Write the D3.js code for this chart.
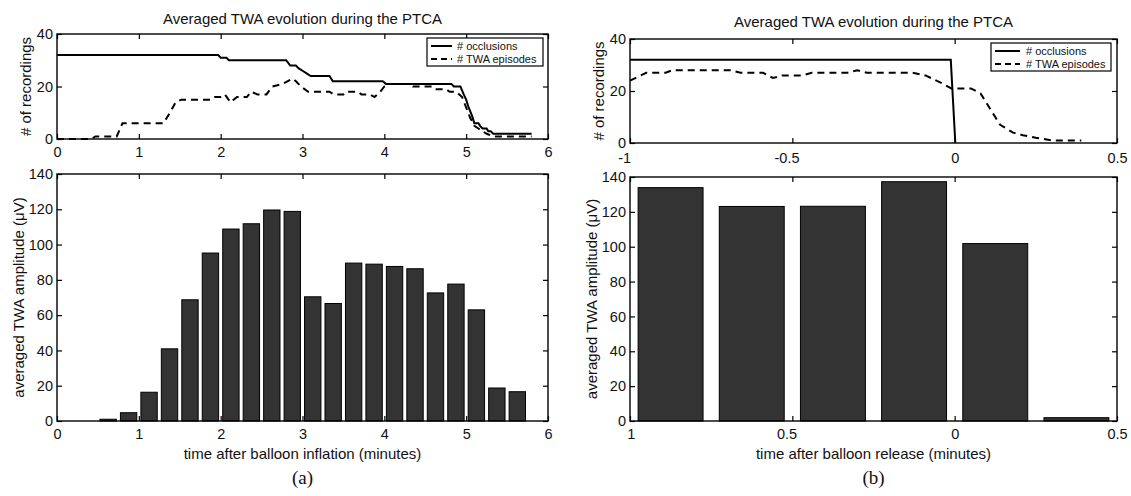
<!DOCTYPE html>
<html><head><meta charset="utf-8">
<script src="https://cdn.jsdelivr.net/npm/d3@7"></script>
<style>
body{margin:0;background:#fff;}
svg{display:block;font-family:"Liberation Sans",Arial,Helvetica,sans-serif;}
</style></head><body>
<svg id="c" width="1131" height="496"></svg>
<script>
// ---------- data ----------
const titleText = "Averaged TWA evolution during the PTCA";
const legendLabels = ["# occlusions", "# TWA episodes"];

// panel (a) top: number of recordings after balloon inflation
const occTimesA = [0,1.97,2.0,2.07,2.1,2.8,2.85,2.92,2.95,3.0,3.05,3.1,3.33,3.37,3.98,4.02,4.82,4.85,4.93,4.97,5.0,5.03,5.07,5.1,5.15,5.17,5.2,5.25,5.27,5.3,5.33,5.8];
const occValuesA = [32,32,31,31,30,30,28,28,27,26,25,24,24,22,22,21,21,20,20,17,15,12,9,6,6,5,4,4,3,3,2,2];
const twaTimesA = [0,0.42,0.47,0.73,0.8,1.3,1.38,1.45,1.52,1.88,1.93,2.0,2.05,2.12,2.2,2.32,2.37,2.45,2.56,2.63,2.76,2.88,2.92,2.98,3.07,3.33,3.38,3.5,3.53,3.68,3.72,3.82,3.88,3.95,4.0,4.07,4.3,4.35,4.58,4.62,4.75,4.8,4.88,4.95,5.0,5.05,5.1,5.15,5.2,5.25,5.33,5.8];
const twaValuesA = [0,0,1,1,6,6,10,14,15,15,16,16,17,14,16,16,18,17,17,20,21,23,22,20,18,18,17,17,18,18,17,17,16,18,20,21,21,20,20,19,19,18,18,16,12,8,5,4,3,2,1,1];

// panel (a) bottom: averaged TWA amplitude per bin
const barTimesA = [0.125,0.375,0.625,0.875,1.125,1.375,1.625,1.875,2.125,2.375,2.625,2.875,3.125,3.375,3.625,3.875,4.125,4.375,4.625,4.875,5.125,5.375,5.625];
const barValuesA = [0,0,1,4.7,16.3,40.9,68.7,95.2,108.8,111.8,119.6,118.8,70.4,66.6,89.5,88.9,87.6,86.3,72.6,77.6,63.0,18.7,16.6];

// panel (b) top: number of recordings around balloon release
const occTimesB = [-1,-0.012,0.002];
const occValuesB = [32,32,0];
const twaTimesB = [-1,-0.95,-0.89,-0.87,-0.69,-0.66,-0.59,-0.56,-0.53,-0.47,-0.44,-0.33,-0.3,-0.27,-0.13,-0.09,-0.04,-0.01,0.05,0.08,0.1,0.12,0.14,0.18,0.21,0.25,0.3,0.39];
const twaValuesB = [24,27,27,28,28,27,27,25,26,26,27,27,28,27,27,26,23,21,21,19,15,11,7,4,3,2,1,1];

// panel (b) bottom
const barTimesB = [-0.875,-0.625,-0.375,-0.125,0.125,0.375];
const barValuesB = [133.9,123.1,123.2,137.3,101.8,1.9];

// ticks
const xTicksA = [0,1,2,3,4,5,6];
const xTickLabelsA = ["0","1","2","3","4","5","6"];
const xTicksB = [-1,-0.5,0,0.5];
const xTickLabelsBTop = ["-1","-0.5","0","0.5"];
const xTickLabelsBBottom = ["1","0.5","0","0.5"];
const yTicksTop = [0,20,40];
const yTicksBottom = [0,20,40,60,80,100,120,140];

const yLabelTop = "# of recordings";
const yLabelBottom = "averaged TWA amplitude (\u03BCV)";
const xLabelA = "time after balloon inflation (minutes)";
const xLabelB = "time after balloon release (minutes)";
const panelLabels = ["(a)", "(b)"];

// ---------- drawing ----------
const svg = d3.select("#c");
const TICKFONT = "14.5px";

function drawAxes(x, y, xTicks, xLabels, yTicks, pad, shiftFn) {
  const g = svg.append("g");
  const [y0, y1] = y.range();
  const [x0, x1] = x.range();
  const b = g.append("g").attr("transform", `translate(0,${y0})`)
    .call(d3.axisBottom(x).tickValues(xTicks)
      .tickFormat((d, i) => xLabels[i])
      .tickSizeInner(-5).tickSizeOuter(0).tickPadding(pad));
  b.selectAll("text").attr("dx", d => shiftFn(d));
  g.append("g").attr("transform", `translate(0,${y1})`)
    .call(d3.axisTop(x).tickValues(xTicks).tickFormat(() => "").tickSizeInner(-5).tickSizeOuter(0));
  g.append("g").attr("transform", `translate(${x0},0)`)
    .call(d3.axisLeft(y).tickValues(yTicks).tickFormat(d3.format("d")).tickSizeInner(-5).tickSizeOuter(0).tickPadding(4));
  g.append("g").attr("transform", `translate(${x1},0)`)
    .call(d3.axisRight(y).tickValues(yTicks).tickFormat(() => "").tickSizeInner(-5).tickSizeOuter(0));
  g.selectAll(".domain").remove();
  g.selectAll(".tick line").attr("stroke", "#000").attr("stroke-width", 1.2);
  g.selectAll("text").attr("font-size", TICKFONT).attr("fill", "#111")
    .attr("font-family", "'Liberation Sans',Arial,sans-serif");
  g.append("rect").attr("x", x0).attr("y", y1).attr("width", x1 - x0).attr("height", y0 - y1)
    .attr("fill", "none").attr("stroke", "#000").attr("stroke-width", 1.4);
}

function drawBars(x, y, times, values) {
  svg.append("g").selectAll("rect").data(times).join("rect")
    .attr("x", d => x(d - 0.1))
    .attr("width", d => x(d + 0.1) - x(d - 0.1))
    .attr("y", (d, i) => y(values[i]))
    .attr("height", (d, i) => y(0) - y(values[i]))
    .attr("fill", "#333333").attr("stroke", "#000").attr("stroke-width", 1);
}

function drawLine(x, y, times, values, dashed) {
  const line = d3.line().x(d => x(d)).y((d, i) => y(values[i]));
  svg.append("path").attr("d", line(times))
    .attr("fill", "none").attr("stroke", "#000").attr("stroke-width", 2)
    .attr("stroke-dasharray", dashed ? "7,5" : null);
}

function drawLegend(bx, by, bw, bh, lx0, lx1, tx, rows) {
  const g = svg.append("g");
  g.append("rect").attr("x", bx).attr("y", by).attr("width", bw).attr("height", bh)
    .attr("fill", "#fff").attr("stroke", "#000").attr("stroke-width", 1.2);
  legendLabels.forEach((t, i) => {
    g.append("line").attr("x1", lx0).attr("x2", lx1).attr("y1", rows[i]).attr("y2", rows[i])
      .attr("stroke", "#000").attr("stroke-width", 2)
      .attr("stroke-dasharray", i === 1 ? "6,4" : null);
    g.append("text").attr("x", tx).attr("y", rows[i]).attr("dy", "0.36em")
      .attr("font-size", "11px").attr("fill", "#111").text(t);
  });
}

function title(cx, yb) {
  svg.append("text").attr("x", cx).attr("y", yb).attr("text-anchor", "middle")
    .attr("font-size", "15px").attr("fill", "#111").text(titleText);
}
function yLabel(cx, cy, t) {
  svg.append("text").attr("transform", `translate(${cx},${cy}) rotate(-90)`)
    .attr("text-anchor", "middle").attr("dy", "0.36em")
    .attr("font-size", "15px").attr("fill", "#111").text(t);
}
function xLabel(cx, yb, t) {
  svg.append("text").attr("x", cx).attr("y", yb).attr("text-anchor", "middle")
    .attr("font-size", "15px").attr("fill", "#111").text(t);
}

// ----- panel (a) -----
const xA = d3.scaleLinear().domain([0, 6]).range([57, 548]);
const yTA = d3.scaleLinear().domain([0, 40]).range([139, 34]);
const yBA = d3.scaleLinear().domain([0, 140]).range([421, 174]);
const noShift = () => 0;

title(302.5, 24);
drawLine(xA, yTA, occTimesA, occValuesA, false);
drawLine(xA, yTA, twaTimesA, twaValuesA, true);
drawAxes(xA, yTA, xTicksA, xTickLabelsA, yTicksTop, 8, noShift);
drawLegend(427, 38, 116, 28, 431, 452, 457, [46, 59]);
yLabel(26, 86.5, yLabelTop);

drawBars(xA, yBA, barTimesA, barValuesA);
drawAxes(xA, yBA, xTicksA, xTickLabelsA, yTicksBottom, 8, noShift);
yLabel(19, 297.5, yLabelBottom);
xLabel(302.5, 459, xLabelA);

// ----- panel (b) -----
const xB = d3.scaleLinear().domain([-1, 0.5]).range([630, 1117]);
const yTB = d3.scaleLinear().domain([0, 40]).range([143, 39]);
const yBB = d3.scaleLinear().domain([0, 140]).range([421, 177]);

title(873.5, 27);
drawLine(xB, yTB, occTimesB, occValuesB, false);
drawLine(xB, yTB, twaTimesB, twaValuesB, true);
drawAxes(xB, yTB, xTicksB, xTickLabelsBTop, yTicksTop, 10, d => d < 0 ? "-0.4em" : 0);
drawLegend(991, 43, 120, 28, 995, 1020, 1026, [51, 64]);
yLabel(599, 91, yLabelTop);

drawBars(xB, yBB, barTimesB, barValuesB);
drawAxes(xB, yBB, xTicksB, xTickLabelsBBottom, yTicksBottom, 8, d => d === -1 ? "0.05em" : (d < 0 ? "-0.4em" : 0));
yLabel(592, 299, yLabelBottom);
xLabel(873.5, 459, xLabelB);

// panel letters
[[302.5, panelLabels[0]], [873.5, panelLabels[1]]].forEach(([cx, t]) => {
  svg.append("text").attr("x", cx).attr("y", 484).attr("text-anchor", "middle")
    .attr("font-family", "'Liberation Serif','Times New Roman',serif")
    .attr("font-size", "19px").attr("fill", "#111").text(t);
});
</script>
</body></html>
